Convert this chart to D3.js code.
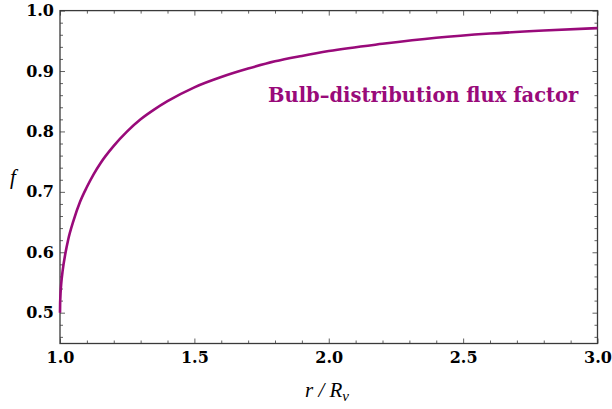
<!DOCTYPE html>
<html>
<head>
<meta charset="utf-8">
<script src="https://cdn.jsdelivr.net/npm/d3@7"></script>
<style>
  html, body { margin: 0; padding: 0; background: #fff; }
  svg { display: block; }
</style>
</head>
<body>
<svg id="chart" width="612" height="409"></svg>
<script>
// ---- data ----
const rValues = [1.0, 1.0005, 1.001, 1.002, 1.005, 1.01, 1.02, 1.03, 1.05, 1.075, 1.1, 1.125, 1.15,
                 1.2, 1.25, 1.3, 1.35, 1.4, 1.5, 1.6, 1.7, 1.8, 1.9, 2.0, 2.2, 2.4, 2.6, 2.8, 3.0];
const fValues = [0.500, 0.516, 0.522, 0.532, 0.550, 0.570, 0.598, 0.620, 0.652, 0.684, 0.708, 0.729, 0.747,
                 0.776, 0.800, 0.820, 0.836, 0.850, 0.873, 0.890, 0.904, 0.916, 0.925, 0.933, 0.945, 0.955, 0.962, 0.967, 0.971];
const xMajorTicks = [1.0, 1.5, 2.0, 2.5, 3.0];
const yMajorTicks = [0.5, 0.6, 0.7, 0.8, 0.9, 1.0];
const xDomain = [1.0, 3.0];
const yDomain = [0.449, 1.0];
const curveLabel = "Bulb\u2013distribution flux factor";
const xLabel = "r / R";
const xLabelSub = "\u03bd";
const yLabel = "f";

const color = "#990a7a";
const frameColor = "#3a3a3a";
const fontFam = "'DejaVu Serif', 'Liberation Serif', serif";

const svg = d3.select("#chart");
const L = 60, R = 597.5, T = 10.6, B = 343.5;

const x = d3.scaleLinear().domain(xDomain).range([L, R]);
const y = d3.scaleLinear().domain(yDomain).range([B, T]);

const xMinor = d3.range(1.0, 3.0001, 0.1).map(v => +v.toFixed(2)).filter(v => !xMajorTicks.some(m => Math.abs(m - v) < 1e-9));
const yMinor = d3.range(0.46, 1.0001, 0.02).map(v => +v.toFixed(2)).filter(v => !yMajorTicks.some(m => Math.abs(m - v) < 1e-9));

function styleAxis(g) {
  g.select(".domain").remove();
  g.selectAll(".tick line").attr("stroke", frameColor).attr("stroke-width", 0.8);
}
const labelStyle = g => g.selectAll("text").attr("font-family", fontFam).attr("font-weight", "bold")
  .attr("font-size", 16).attr("fill", "#000");

// bottom axis (ticks inward)
svg.append("g").attr("transform", `translate(0,${B})`)
  .call(d3.axisBottom(x).tickValues(xMajorTicks).tickSizeInner(-5).tickSizeOuter(0).tickPadding(8).tickFormat(d3.format(".1f")))
  .call(styleAxis).call(labelStyle);
svg.append("g").attr("transform", `translate(0,${B})`)
  .call(d3.axisBottom(x).tickValues(xMinor).tickSizeInner(-3).tickSizeOuter(0).tickFormat(""))
  .call(styleAxis);
// top axis
svg.append("g").attr("transform", `translate(0,${T})`)
  .call(d3.axisTop(x).tickValues(xMajorTicks).tickSizeInner(-5).tickSizeOuter(0).tickFormat(""))
  .call(styleAxis);
svg.append("g").attr("transform", `translate(0,${T})`)
  .call(d3.axisTop(x).tickValues(xMinor).tickSizeInner(-3).tickSizeOuter(0).tickFormat(""))
  .call(styleAxis);
// left axis
svg.append("g").attr("transform", `translate(${L},0)`)
  .call(d3.axisLeft(y).tickValues(yMajorTicks).tickSizeInner(-5).tickSizeOuter(0).tickPadding(6).tickFormat(d3.format(".1f")))
  .call(styleAxis).call(labelStyle);
svg.append("g").attr("transform", `translate(${L},0)`)
  .call(d3.axisLeft(y).tickValues(yMinor).tickSizeInner(-3).tickSizeOuter(0).tickFormat(""))
  .call(styleAxis);
// right axis
svg.append("g").attr("transform", `translate(${R},0)`)
  .call(d3.axisRight(y).tickValues(yMajorTicks).tickSizeInner(-5).tickSizeOuter(0).tickFormat(""))
  .call(styleAxis);
svg.append("g").attr("transform", `translate(${R},0)`)
  .call(d3.axisRight(y).tickValues(yMinor).tickSizeInner(-3).tickSizeOuter(0).tickFormat(""))
  .call(styleAxis);

// frame
svg.append("rect").attr("x", L).attr("y", T).attr("width", R - L).attr("height", B - T)
  .attr("fill", "none").attr("stroke", frameColor).attr("stroke-width", 1.3);

// curve
const data = rValues.map((r, i) => [r, fValues[i]]);
svg.append("path").datum(data)
  .attr("fill", "none").attr("stroke", color).attr("stroke-width", 2.6)
  .attr("d", d3.line().x(d => x(d[0])).y(d => y(d[1])).curve(d3.curveMonotoneX));

// curve label
svg.append("text").attr("x", 268).attr("y", 102)
  .attr("font-family", fontFam).attr("font-weight", "bold").attr("font-size", 19.5)
  .attr("fill", color).text(curveLabel);

// axis labels
const xl = svg.append("text").attr("x", 305).attr("y", 397)
  .attr("font-family", "'Liberation Serif', serif").attr("font-style", "italic").attr("font-size", 21).attr("fill", "#000");
xl.append("tspan").text(xLabel);
xl.append("tspan").attr("font-size", 15).attr("dy", 4).text(xLabelSub);

svg.append("text").attr("x", 10).attr("y", 184)
  .attr("font-family", "'Liberation Serif', serif").attr("font-style", "italic").attr("font-size", 21).attr("fill", "#000")
  .text(yLabel);
</script>
</body>
</html>
